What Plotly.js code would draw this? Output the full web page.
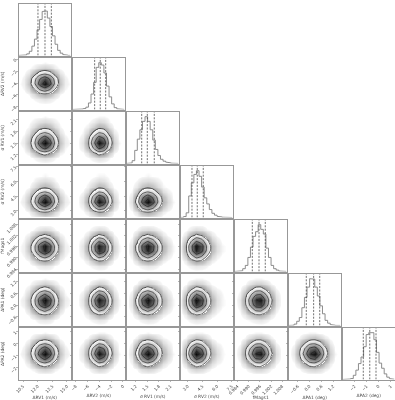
<!DOCTYPE html>
<html><head><meta charset="utf-8">
<script src="https://cdn.plot.ly/plotly-3.0.1.min.js"></script>
<style>html,body{margin:0;padding:0;background:#fff}#plot{will-change:transform}</style></head>
<body><div id="plot" style="width:395px;height:400px"></div>
<script>
const names=["ΔRV1 (m/s)","ΔRV2 (m/s)","σ RV1 (m/s)","σ RV2 (m/s)","fMags1","ΔPA1 (deg)","ΔPA2 (deg)"];
const ranges=[[10.09,15.36],[-8.47,0.26],[0.975,2.306],[2.32,7.575],[0.98266,1.01026],[-1.042,1.576],[-2.96,1.33]];
const tickVals=[[10.5,12,13.5,15],[-8,-6,-4,-2,0],[1.2,1.5,1.8,2.1],[3,4.5,6,7.5],[0.984,0.99,0.996,1.002,1.008],[-0.6,0,0.6,1.2],[-2,-1,0,1]];
const tickText=[["10.5","12.0","13.5","15.0"],["−8","−6","−4","−2","0"],["1.2","1.5","1.8","2.1"],["3.0","4.5","6.0","7.5"],["0.984","0.990","0.996","1.002","1.008"],["−0.6","0.0","0.6","1.2"],["−2","−1","0","1"]];
const quantiles=[[12.03,12.75,13.4],[-4.8,-3.85,-2.93],[1.355,1.5,1.68],[3.44,3.98,4.59],[0.99193,0.99552,0.99889],[-0.163,0.21,0.52],[-1.27,-0.73,-0.21]];
const hist1=[.2,.4,1.2,3.5,9,20,35,55,77,94,95,80,62,42,24,11,5,2,.7,.2];
const hist2=[.1,.2,.4,1,2,5,14,33,58,90,100,95,78,50,27,12,4,1.5,.5,.1];
const hist3=[.2,1.2,6,28,52,72,90,100,90,72,50,30,17,9,5,3,1.5,.7,.3,.1];
const hist4=[.2,2,10,46,74,92,100,88,65,42,29,17,9,5,2.5,1.2,.6,.2,.1,0];
const hist5=[.1,.4,1.5,6,13,30,52,75,85,100,90,80,50,30,13,6,3,1,.4,.1];
const hist6=[.1,.6,3,9,17,38,60,82,100,99,82,63,42,25,11,5,2,.6,.2,.1];
const hist7=[.1,.2,1,2,9,20,34,48,70,96,100,100,85,58,35,24,12,5,2,.5];
const Z=[0,0,0,0,0,0,0,0,0,0,0];
const g21=[Z,[0,0,0,0,1,1,1,0,0,0,0],[0,0,0,2,4,6,4,2,0,0,0],[0,0,2,9,24,33,24,9,2,0,0],[0,2,9,42,110,150,110,42,9,2,0],[1,3,17,81,212,291,212,81,17,3,1],[0,3,14,66,171,234,171,66,14,3,0],[0,1,5,22,57,78,57,22,5,1,0],[0,0,1,3,9,12,9,3,1,0,0],[0,0,0,1,1,2,1,1,0,0,0],Z];
const g31=[Z,[0,0,0,2,5,7,5,2,0,0,0],[0,1,3,16,42,57,42,16,3,1,0],[0,2,12,58,151,207,151,58,12,2,0],[1,4,18,84,219,300,219,84,18,4,1],[0,3,13,61,160,219,160,61,13,3,0],[0,1,6,27,70,96,70,27,6,1,0],[0,0,2,8,20,27,20,8,2,0,0],[0,0,1,3,7,9,7,3,1,0,0],[0,0,0,1,1,2,1,1,0,0,0],Z];
const g32=[Z,[0,0,0,1,4,7,5,2,0,0,0],[0,0,1,6,28,55,44,15,2,0,0],[0,1,4,23,103,201,161,54,8,1,0],[0,1,6,33,150,291,234,78,12,2,0],[0,1,4,24,110,212,171,57,9,1,0],[0,0,2,11,48,93,75,25,4,1,0],[0,0,1,3,13,26,21,7,1,0,0],[0,0,0,1,4,9,7,2,0,0,0],[0,0,0,0,1,2,2,1,0,0,0],Z];
const g41=[[0,0,0,1,1,2,1,1,0,0,0],[0,0,2,9,24,33,24,9,2,0,0],[0,2,10,46,120,165,120,46,10,2,0],[1,4,18,84,219,300,219,84,18,4,1],[0,3,14,65,169,231,169,65,14,3,0],[0,1,6,26,68,93,68,26,6,1,0],[0,0,1,7,18,24,18,7,1,0,0],[0,0,0,2,6,8,6,2,0,0,0],[0,0,0,1,1,2,1,1,0,0,0],[0,0,0,0,1,1,1,0,0,0,0],Z];
const g42=[[0,0,0,0,1,2,2,1,0,0,0],[0,0,1,4,17,32,26,9,1,0,0],[0,1,3,18,83,160,129,43,7,1,0],[0,1,6,33,150,291,234,78,12,2,0],[0,1,5,25,116,224,180,60,9,1,0],[0,0,2,10,47,90,73,24,4,1,0],[0,0,0,3,12,23,19,6,1,0,0],[0,0,0,1,4,8,6,2,0,0,0],[0,0,0,0,1,2,2,1,0,0,0],[0,0,0,0,1,1,1,0,0,0,0],Z];
const g43=[[0,0,0,1,2,1,1,0,0,0,0],[0,1,6,23,33,24,11,3,1,0,0],[0,4,31,114,165,120,53,15,5,1,0],[0,7,57,207,300,219,96,27,9,2,0],[0,5,44,159,231,169,74,21,7,1,0],[0,2,18,64,93,68,30,8,3,1,0],[0,1,5,17,24,18,8,2,1,0,0],[0,0,2,6,8,6,3,1,0,0,0],[0,0,0,1,2,1,1,0,0,0,0],[0,0,0,1,1,1,0,0,0,0,0],Z];
const g51=[Z,[0,0,0,1,4,5,4,1,0,0,0],[0,0,2,10,26,35,26,10,2,0,0],[0,2,8,37,96,132,96,37,8,2,0],[1,3,16,75,195,267,195,75,16,3,1],[1,3,17,80,208,285,208,80,17,3,1],[0,2,10,45,116,159,116,45,10,2,0],[0,1,3,13,35,48,35,13,3,1,0],[0,0,0,2,6,8,6,2,0,0,0],[0,0,0,0,1,1,1,0,0,0,0],Z];
const g52=[Z,[0,0,0,1,3,5,4,1,0,0,0],[0,0,1,4,18,34,27,9,1,0,0],[0,1,3,15,66,128,103,34,5,1,0],[0,1,5,29,134,259,208,69,11,2,0],[0,1,6,31,143,276,222,74,11,2,0],[0,1,3,17,80,154,124,41,6,1,0],[0,0,1,5,24,47,37,12,2,0,0],[0,0,0,1,4,8,6,2,0,0,0],[0,0,0,0,1,1,1,0,0,0,0],Z];
const g53=[Z,[0,0,1,3,5,4,2,0,0,0,0],[0,1,7,24,35,26,11,3,1,0,0],[0,3,25,91,132,96,42,12,4,1,0],[0,6,51,184,267,195,85,24,8,2,0],[0,6,54,197,285,208,91,26,9,2,0],[0,3,30,110,159,116,51,14,5,1,0],[0,1,9,33,48,35,15,4,1,0,0],[0,0,2,6,8,6,3,1,0,0,0],[0,0,0,1,1,1,0,0,0,0,0],Z];
const g54=[Z,[0,1,3,5,4,2,0,0,0,0,0],[0,4,19,35,27,11,3,1,0,0,0],[1,15,73,132,102,41,11,3,1,0,0],[2,29,147,267,206,83,21,7,2,1,0],[2,31,157,285,219,88,23,7,2,1,0],[1,17,87,159,122,49,13,4,1,0,0],[0,5,26,48,37,15,4,1,0,0,0],[0,1,4,8,6,2,1,0,0,0,0],[0,0,1,1,1,0,0,0,0,0,0],Z];
const g61=[Z,[0,0,0,1,4,5,4,1,0,0,0],[0,0,2,9,23,32,23,9,2,0,0],[0,1,7,34,88,120,88,34,7,1,0],[1,3,15,71,186,255,186,71,15,3,1],[1,4,18,82,215,294,215,82,18,4,1],[0,2,11,53,138,189,138,53,11,2,0],[0,1,4,18,48,66,48,18,4,1,0],[0,0,1,4,9,13,9,4,1,0,0],[0,0,0,1,1,2,1,1,0,0,0],Z];
const g62=[Z,[0,0,0,1,3,5,4,1,0,0,0],[0,0,1,4,16,31,25,8,1,0,0],[0,0,2,13,60,116,94,31,5,1,0],[0,1,5,28,128,247,199,66,10,2,0],[0,1,6,32,147,285,229,76,12,2,0],[0,1,4,21,95,183,147,49,8,1,0],[0,0,1,7,33,64,51,17,3,0,0],[0,0,0,1,7,13,10,3,1,0,0],[0,0,0,0,1,2,2,1,0,0,0],Z];
const g63=[Z,[0,0,1,3,5,4,2,0,0,0,0],[0,1,6,22,32,23,10,3,1,0,0],[0,3,23,83,120,88,38,11,4,1,0],[0,6,48,176,255,186,82,23,8,2,0],[0,6,56,203,294,215,94,26,9,2,0],[0,4,36,130,189,138,60,17,6,1,0],[0,1,13,46,66,48,21,6,2,0,0],[0,0,2,9,13,9,4,1,0,0,0],[0,0,0,1,2,1,1,0,0,0,0],Z];
const g64=[Z,[0,1,3,5,4,2,0,0,0,0,0],[0,4,18,32,25,10,3,1,0,0,0],[1,13,66,120,92,37,10,3,1,0,0],[2,28,140,255,196,79,20,6,2,1,0],[2,32,162,294,226,91,24,7,2,1,0],[1,21,104,189,146,59,15,5,2,0,0],[0,7,36,66,51,20,5,2,1,0,0],[0,1,7,13,10,4,1,0,0,0,0],[0,0,1,2,2,1,0,0,0,0,0],Z];
const g65=[Z,[0,0,1,2,4,5,3,1,0,0,0],[0,1,4,14,28,30,17,5,1,0,0],[0,2,14,53,107,114,64,19,3,0,0],[0,4,29,112,227,242,135,41,6,1,0],[0,5,34,129,262,279,156,47,7,1,0],[0,3,22,83,168,180,100,30,5,1,0],[0,1,8,29,59,63,35,11,2,0,0],[0,0,1,6,12,12,7,2,0,0,0],[0,0,0,1,2,2,1,0,0,0,0],Z];
const g71=[Z,[0,0,0,0,1,1,1,0,0,0,0],[0,0,1,3,9,12,9,3,1,0,0],[0,1,4,19,50,69,50,19,4,1,0],[0,2,12,55,145,198,145,55,12,2,0],[1,4,18,84,219,300,219,84,18,4,1],[0,3,14,64,166,228,166,64,14,3,0],[0,1,5,25,66,90,66,25,5,1,0],[0,0,1,5,13,18,13,5,1,0,0],[0,0,0,1,1,2,1,1,0,0,0],Z];
const g72=[Z,[0,0,0,0,1,1,1,0,0,0,0],[0,0,0,1,6,12,9,3,0,0,0],[0,0,1,8,35,67,54,18,3,0,0],[0,1,4,22,99,192,154,51,8,1,0],[0,1,6,33,150,291,234,78,12,2,0],[0,1,5,25,114,221,178,59,9,1,0],[0,0,2,10,45,87,70,23,4,1,0],[0,0,0,2,9,17,14,5,1,0,0],[0,0,0,0,1,2,2,1,0,0,0],Z];
const g73=[Z,[0,0,0,1,1,1,0,0,0,0,0],[0,0,2,8,12,9,4,1,0,0,0],[0,2,13,48,69,50,22,6,2,0,0],[0,4,38,137,198,145,63,18,6,1,0],[0,7,57,207,300,219,96,27,9,2,0],[0,5,43,157,228,166,73,21,7,1,0],[0,2,17,62,90,66,29,8,3,1,0],[0,0,3,12,18,13,6,2,1,0,0],[0,0,0,1,2,1,1,0,0,0,0],Z];
const g74=[Z,[0,0,1,1,1,0,0,0,0,0,0],[0,1,7,12,9,4,1,0,0,0,0],[0,8,38,69,53,21,6,2,1,0,0],[1,22,109,198,152,61,16,5,2,0,0],[2,33,165,300,231,93,24,8,2,1,0],[1,25,125,228,176,71,18,6,2,0,0],[1,10,50,90,69,28,7,2,1,0,0],[0,2,10,18,14,6,1,0,0,0,0],[0,0,1,2,2,1,0,0,0,0,0],Z];
const g75=[Z,[0,0,0,0,1,1,1,0,0,0,0],[0,0,1,5,11,11,6,2,0,0,0],[0,1,8,30,61,66,37,11,2,0,0],[0,3,23,87,176,188,105,32,5,1,0],[0,5,35,132,267,285,159,48,8,1,0],[0,4,26,100,203,217,121,36,6,1,0],[0,1,10,40,80,86,48,14,2,0,0],[0,0,2,8,16,17,10,3,0,0,0],[0,0,0,1,2,2,1,0,0,0,0],Z];
const g76=[Z,[0,0,0,0,1,1,1,0,0,0,0],[0,0,1,5,10,12,8,3,1,0,0],[0,1,7,28,59,68,43,15,3,0,0],[0,3,21,79,168,194,125,44,9,1,0],[0,5,32,120,255,294,189,66,13,2,0],[0,4,24,91,194,223,144,50,10,1,0],[0,1,10,36,77,88,57,20,4,0,0],[0,0,2,7,15,18,11,4,1,0,0],[0,0,0,1,2,2,1,0,0,0,0],Z];

const hists=[hist1,hist2,hist3,hist4,hist5,hist6,hist7];
const grids=[[],[g21],[g31,g32],[g41,g42,g43],[g51,g52,g53,g54],[g61,g62,g63,g64,g65],[g71,g72,g73,g74,g75,g76]];
const zMax=300, levels=[40,98,182,265];
const stops=[[0,'#ffffff'],[1.2,'#ffffff'],[2,'#f4f4f4'],[5,'#e6e6e6'],[15,'#c8c8c8'],[39.5,'#9c9c9c'],[40,'#fbfbfb'],[98,'#bdbdbd'],[182,'#707070'],[265,'#2a2a2a'],[300,'#0a0a0a']];
const colorscale=stops.map(s=>[s[0]/zMax,s[1]]);
const left=[19,73,127,181,235,289,343], top_=[4,58,112,166,220,274,328], size=51.5, W=395, H=400;
const fontCol='#4a4a4a', frame='#989898';
const axisId=(r,c)=>String(r*7+c+1);
const data=[], layout={width:W,height:H,margin:{l:0,r:0,t:0,b:0},paper_bgcolor:'#fff',plot_bgcolor:'#fff',showlegend:false,hovermode:false};
const span=(rg,n)=>Array.from({length:n},(_,k)=>rg[0]+(rg[1]-rg[0])*k/(n-1));
for(let r=0;r<7;r++)for(let c=0;c<=r;c++){
  const id=axisId(r,c), xa='x'+id, ya='y'+id;
  const base={showgrid:false,zeroline:false,showline:true,mirror:true,linecolor:frame,linewidth:1.2,ticks:'outside',ticklen:1.5,tickwidth:.6,tickcolor:'#888',tickfont:{size:4.2,family:'DejaVu Sans',color:fontCol},tickangle:-45,fixedrange:true};
  layout['xaxis'+id]=Object.assign({},base,{domain:[left[c]/W,(left[c]+size)/W],anchor:ya,range:ranges[c],tickmode:'array',tickvals:tickVals[c],ticktext:tickText[c],showticklabels:r===6});
  if(r===6)layout['xaxis'+id].title={text:names[c],font:{size:4.4,family:'DejaVu Sans',color:fontCol},standoff:3};
  const yRange=r===c?[0,110]:ranges[r];
  layout['yaxis'+id]=Object.assign({},base,{domain:[1-(top_[r]+size)/H,1-top_[r]/H],anchor:xa,range:yRange,showticklabels:c===0&&r>0});
  if(r===c){layout['yaxis'+id].ticks='';layout['yaxis'+id].tickvals=[];layout['yaxis'+id].tickmode='array';}
  else{layout['yaxis'+id].tickmode='array';layout['yaxis'+id].tickvals=tickVals[r];layout['yaxis'+id].ticktext=tickText[r];}
  if(c===0&&r>0)layout['yaxis'+id].title={text:names[r],font:{size:4.4,family:'DejaVu Sans',color:fontCol},standoff:r===4?4:5};
  if(r===c){
    const edges=span(ranges[c],21), h=hists[c];
    const xs=[],ys=[];
    h.forEach((v,i)=>{xs.push(edges[i],edges[i+1]);ys.push(v,v);});
    data.push({type:'scatter',mode:'lines',x:xs,y:ys,xaxis:xa,yaxis:ya,line:{color:'#808080',width:.9}});
    const qx=[],qy=[];
    quantiles[c].forEach(q=>{qx.push(q,q,null);qy.push(0,110,null);});
    data.push({type:'scatter',mode:'lines',x:qx,y:qy,xaxis:xa,yaxis:ya,line:{color:'#333',width:.7,dash:'2px,1.4px'}});
  }else{
    const gx=span(ranges[c],11), gy=span(ranges[r],11), z=grids[r][c];
    data.push({type:'heatmap',x:gx,y:gy,z:z,xaxis:xa,yaxis:ya,zmin:0,zmax:zMax,zsmooth:'best',colorscale:colorscale,showscale:false,hoverinfo:'skip'});
    levels.forEach(l=>data.push({type:'contour',x:gx,y:gy,z:z,xaxis:xa,yaxis:ya,showscale:false,hoverinfo:'skip',
      autocontour:false,contours:{coloring:'none',start:l,end:l,size:1,showlabels:false},line:{color:'#1a1a1a',width:.65,smoothing:.6}}));
  }
}
Plotly.newPlot('plot',data,layout,{staticPlot:true,displayModeBar:false});
</script></body></html>
